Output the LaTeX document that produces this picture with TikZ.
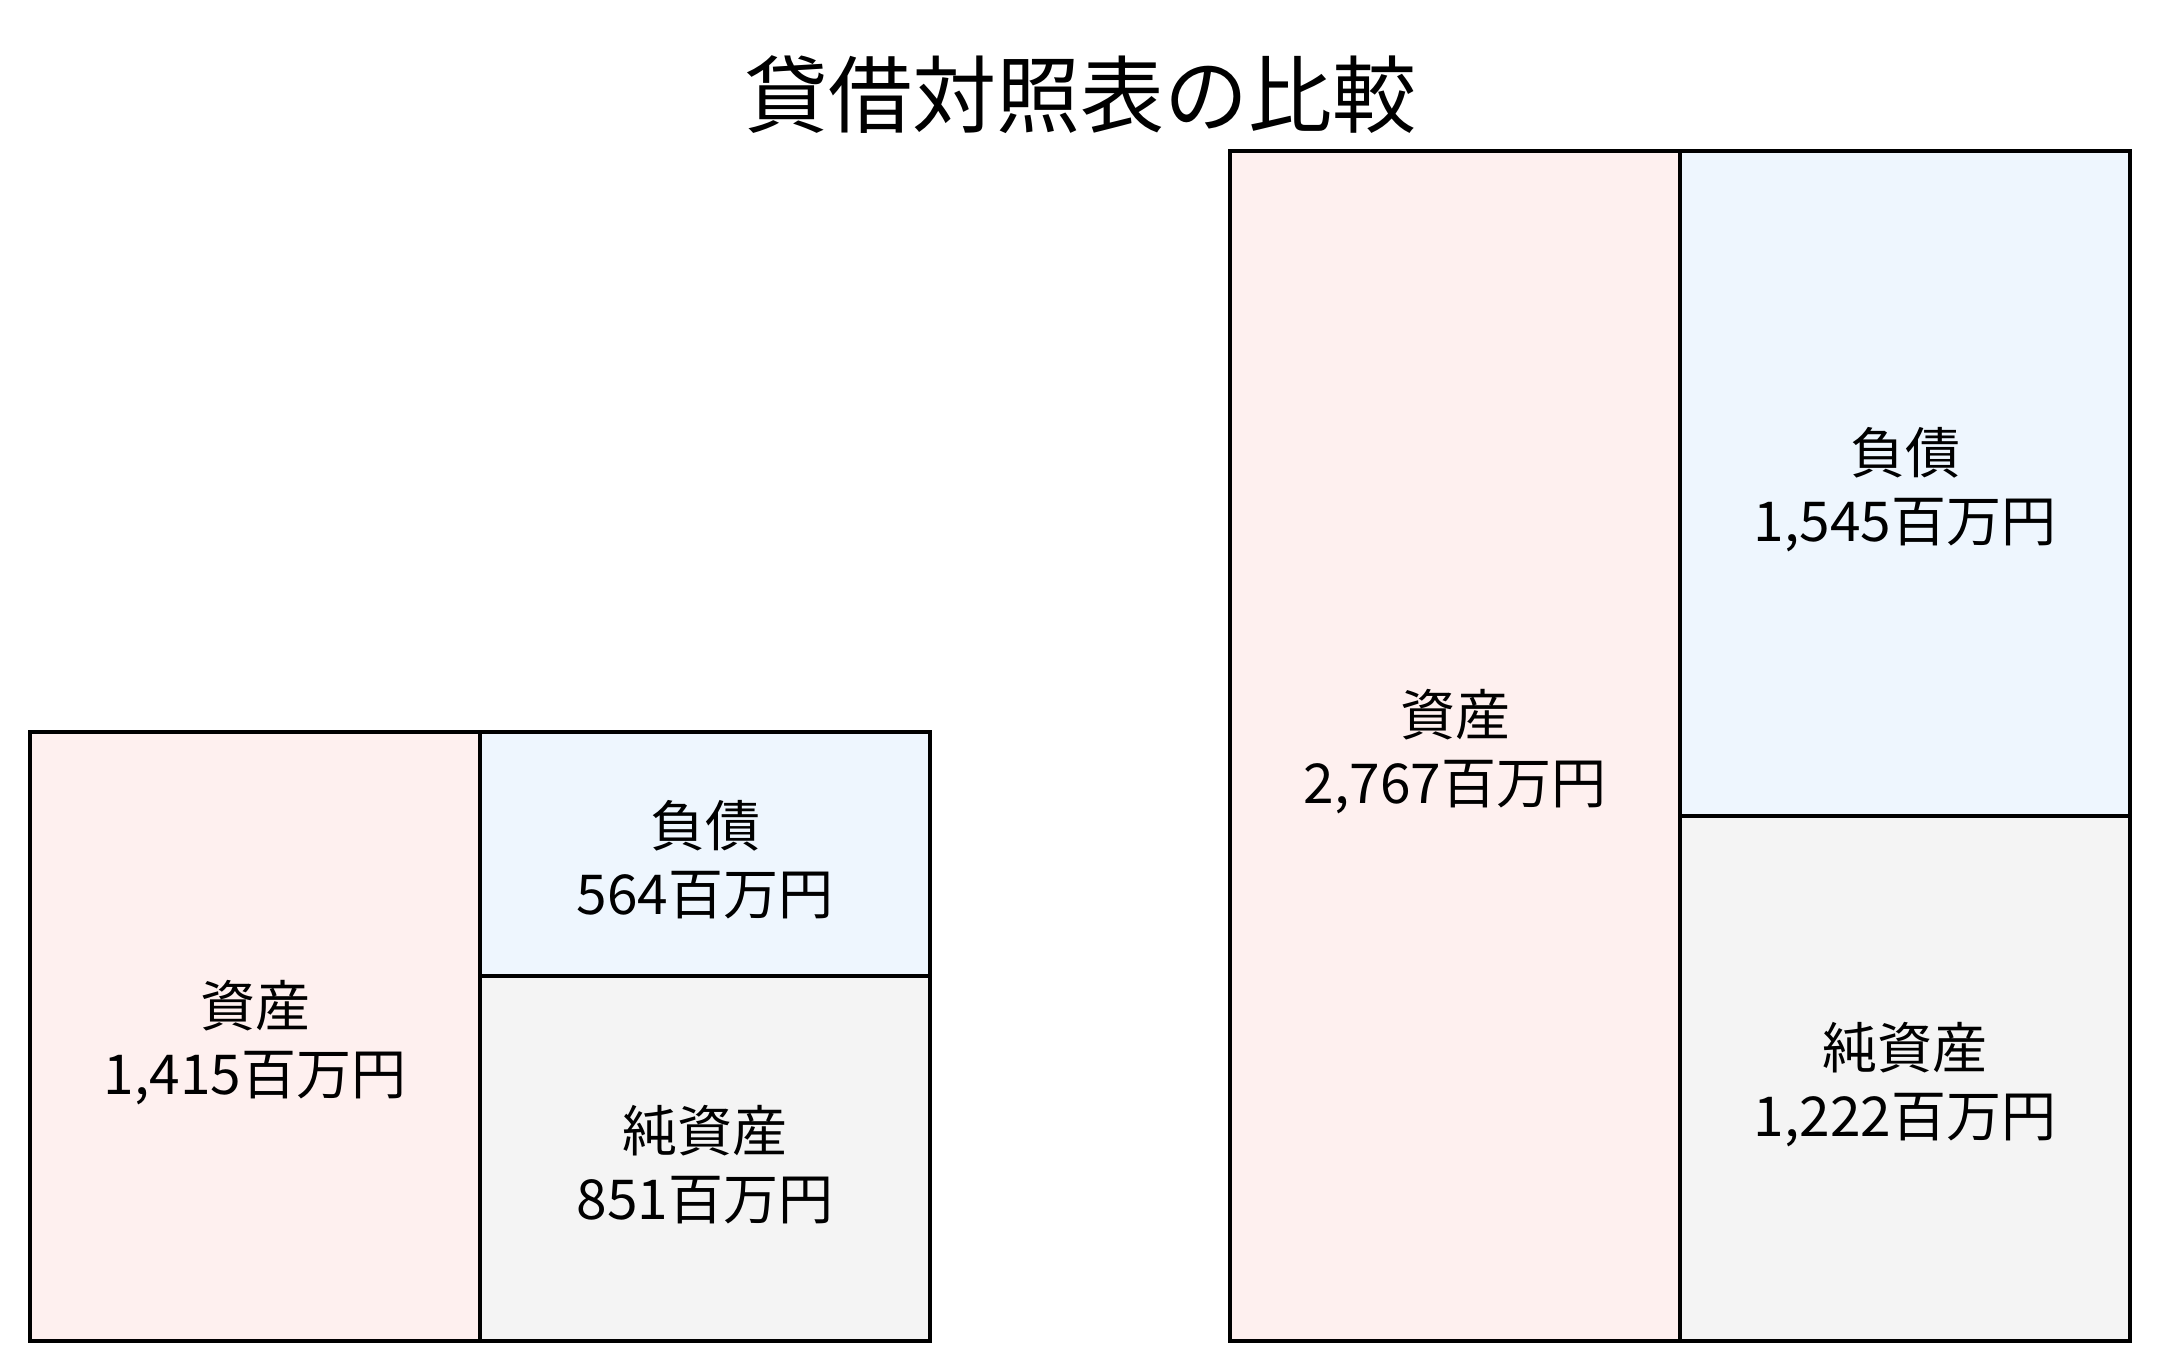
\documentclass[tikz,border=0pt]{standalone}
\usepackage{fontspec}
\setmainfont{Noto Sans CJK JP}
\definecolor{assetpink}{HTML}{FEF0EF}
\definecolor{liabblue}{HTML}{EEF6FE}
\definecolor{netgrey}{HTML}{F4F4F4}
\begin{document}
\begin{tikzpicture}[x=0.5pt,y=-0.5pt,
  cell/.style={draw=black, line width=2pt, rectangle, inner sep=0pt, outer sep=0pt,
    minimum width=225pt},
  celltext/.style={inner sep=0pt, align=center, yshift=-3pt,
    font=\fontsize{27.5pt}{34pt}\selectfont},
  titletext/.style={inner sep=0pt, font=\fontsize{42pt}{50pt}\selectfont}]
\useasboundingbox (0,0) rectangle (2160,1372);
\fill[white] (0,0) rectangle (2160,1372);
% title
\node[titletext] (title) at (1080,95) {貸借対照表の比較};
% left balance sheet
\node[cell, fill=assetpink, minimum height=304.5pt] (lasset) at (255,1036.5) {};
\node[cell, fill=liabblue, minimum height=121.75pt] (lliab) at (705,853.75) {};
\node[cell, fill=netgrey, minimum height=182.75pt] (lnet) at (705,1158.25) {};
% right balance sheet
\node[cell, fill=assetpink, minimum height=595pt] (rasset) at (1455,746) {};
\node[cell, fill=liabblue, minimum height=332.5pt] (rliab) at (1905,483.5) {};
\node[cell, fill=netgrey, minimum height=262.5pt] (rnet) at (1905,1078.5) {};
% labels
\node[celltext] (lassettxt) at (lasset.center) {資産\\1,415百万円};
\node[celltext] (lliabtxt) at (lliab.center) {負債\\564百万円};
\node[celltext] (lnettxt) at (lnet.center) {純資産\\851百万円};
\node[celltext] (rassettxt) at (rasset.center) {資産\\2,767百万円};
\node[celltext] (rliabtxt) at (rliab.center) {負債\\1,545百万円};
\node[celltext] (rnettxt) at (rnet.center) {純資産\\1,222百万円};
\end{tikzpicture}
\end{document}
